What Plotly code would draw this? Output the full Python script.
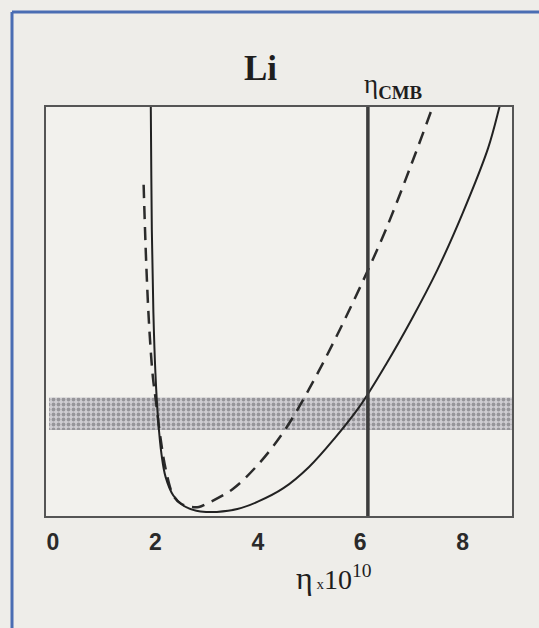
import plotly.graph_objects as go

# Predicted Li abundance versus baryon-to-photon ratio (arbitrary linear units, 0-10)
eta_solid = [1.90, 1.91, 1.93, 1.96, 2.00, 2.05, 2.12, 2.20, 2.35, 2.55, 2.80, 3.00, 3.20,
             3.60, 4.00, 4.50, 5.00, 5.50, 6.00, 6.50, 7.00, 7.50, 8.00, 8.50, 8.72, 8.80]
li_solid = [11.0, 10.0, 7.0, 5.0, 3.5, 2.4, 1.5, 0.95, 0.5, 0.25, 0.13, 0.10, 0.10,
            0.17, 0.35, 0.68, 1.20, 1.90, 2.70, 3.70, 4.80, 6.00, 7.40, 9.00, 10.0, 10.4]

eta_dashed = [1.77, 1.82, 1.88, 1.95, 2.00, 2.10, 2.20, 2.35, 2.50, 2.70, 2.85, 3.00,
              3.50, 4.00, 4.50, 5.00, 5.50, 6.00, 6.50, 7.00, 7.40]
li_dashed = [8.1, 6.2, 4.6, 3.4, 2.9, 1.9, 1.15, 0.5, 0.3, 0.22, 0.22, 0.30,
             0.65, 1.25, 2.05, 3.10, 4.30, 5.60, 7.00, 8.60, 9.95]

# Observed abundance band and CMB value of eta
band_low, band_high = 2.1, 2.9
eta_cmb = 6.15

x_ticks = [0, 2, 4, 6, 8]
x_range = [-0.137, 8.965]
y_range = [0, 10]

W, H = 539, 628
L, R, T, B = 46, 512, 107, 516  # plot-area pixel box


def px(x):
    return (x - L) / (R - L)


def py(y):
    return (B - y) / (B - T)


fig = go.Figure()

# stippled observational band
fig.add_trace(go.Scatter(
    x=[x_range[0] + 0.06, x_range[1], x_range[1], x_range[0] + 0.06, x_range[0] + 0.06],
    y=[band_low, band_low, band_high, band_high, band_low],
    mode="lines", line=dict(width=0), fill="toself",
    fillcolor="rgba(0,0,0,0)",
    fillpattern=dict(shape=".", fgcolor="#5e5e62", bgcolor="#cfcdd2",
                     size=5, solidity=0.45),
    hoverinfo="skip", showlegend=False,
))

fig.add_trace(go.Scatter(
    x=eta_dashed, y=li_dashed, mode="lines", line_shape="spline",
    line=dict(color="#2b2b2b", width=2.5, dash="13px,8px"), showlegend=False,
))
fig.add_trace(go.Scatter(
    x=eta_solid, y=li_solid, mode="lines", line_shape="spline",
    line=dict(color="#222222", width=2), showlegend=False,
))

# vertical CMB marker
fig.add_shape(type="line", x0=eta_cmb, x1=eta_cmb, y0=y_range[0], y1=y_range[1],
              xref="x", yref="y", line=dict(color="#3c3c3c", width=3.5))

# blue frame edges (top and left)
fig.add_shape(type="line", xref="paper", yref="paper",
              x0=px(12), x1=px(W + 5), y0=py(12), y1=py(12),
              line=dict(color="#4a6db3", width=3))
fig.add_shape(type="line", xref="paper", yref="paper",
              x0=px(12), x1=px(12), y0=py(12), y1=py(H + 5),
              line=dict(color="#4a6db3", width=3))

fig.add_annotation(text="<b>Li</b>", xref="paper", yref="paper",
                   x=px(260), y=py(68), showarrow=False,
                   xanchor="center", yanchor="middle",
                   font=dict(family="Liberation Serif", size=35, color="#1e1e1e"))
fig.add_annotation(text="η<sub><b>CMB</b></sub>", xref="paper", yref="paper",
                   x=px(393), y=py(86), showarrow=False,
                   xanchor="center", yanchor="middle",
                   font=dict(family="Liberation Serif", size=27, color="#1e1e1e"))
fig.add_annotation(text="<span style='font-size:32px'>η</span>"
                        "<span style='font-size:15px'> x</span>10<sup>10</sup>",
                   xref="paper", yref="paper", x=px(334), y=py(578), showarrow=False,
                   xanchor="center", yanchor="middle",
                   font=dict(family="Liberation Serif", size=28, color="#1e1e1e"))

fig.update_xaxes(range=x_range, tickvals=x_ticks,
                 ticktext=["<b>%d</b>" % t for t in x_ticks],
                 showgrid=False, zeroline=False, showline=True, mirror=True,
                 linecolor="#555555", linewidth=2, ticks="", ticklabelstandoff=4,
                 tickfont=dict(family="Liberation Sans", size=23, color="#2a2a2a"))
fig.update_yaxes(range=y_range, showticklabels=False, showgrid=False, zeroline=False,
                 showline=True, mirror=True, linecolor="#555555", linewidth=2, ticks="")

fig.update_layout(width=W, height=H, margin=dict(l=L, r=W - R, t=T, b=H - B),
                  paper_bgcolor="#eeede9", plot_bgcolor="#f2f1ed")

fig.write_html("out.html")
